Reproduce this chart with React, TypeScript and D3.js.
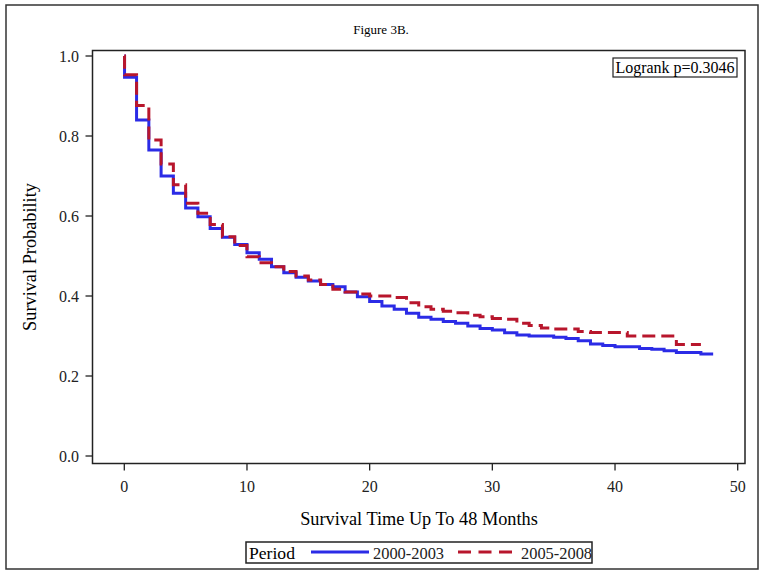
import React from "react";
import * as d3 from "d3";

const blueTimes = [0, 0.02, 1, 2, 3, 4, 5, 6, 7, 8, 9, 10, 11, 12, 13, 14, 15, 16, 17, 18, 19, 20, 21, 22, 23, 24, 25, 26, 27, 28, 29, 30, 31, 32, 33, 35, 36, 37, 38, 39, 40, 42, 43, 44, 45, 47, 48];
const blueSurv = [1.0, 0.947, 0.84, 0.765, 0.70, 0.657, 0.62, 0.598, 0.569, 0.547, 0.529, 0.508, 0.492, 0.473, 0.458, 0.447, 0.4375, 0.429, 0.423, 0.41, 0.398, 0.386, 0.375, 0.367, 0.357, 0.347, 0.342, 0.336, 0.332, 0.325, 0.319, 0.315, 0.308, 0.3025, 0.30, 0.297, 0.294, 0.288, 0.28, 0.276, 0.273, 0.269, 0.267, 0.263, 0.259, 0.255, 0.255];

const redTimes = [0, 0.02, 1, 2, 3, 4, 5, 6, 7, 8, 9, 10, 11, 12, 13, 14, 15, 16, 17, 18, 19, 20, 22, 23, 24, 25, 26, 27, 28, 29, 30, 31, 32, 33, 34, 35, 37, 38, 41, 45, 47];
const redSurv = [1.0, 0.953, 0.876, 0.79, 0.73, 0.678, 0.632, 0.607, 0.579, 0.548, 0.526, 0.498, 0.483, 0.473, 0.461, 0.45, 0.44, 0.429, 0.417, 0.41, 0.405, 0.40, 0.396, 0.383, 0.373, 0.367, 0.362, 0.358, 0.352, 0.348, 0.344, 0.342, 0.332, 0.326, 0.32, 0.3175, 0.311, 0.309, 0.30, 0.279, 0.279];

const xTicks = [0, 10, 20, 30, 40, 50];
const yTicks = [0.0, 0.2, 0.4, 0.6, 0.8, 1.0];
const seriesNames = ["2000-2003", "2005-2008"];

const BLUE = "#2b2be6";
const RED = "#b8162c";
const FONT = "'Liberation Serif', 'Times New Roman', serif";

export default function App() {
  const W = 764, H = 576;
  const plot = { left: 92.5, right: 745, top: 50.5, bottom: 463.5 };
  const x = d3.scaleLinear().domain([0, 50]).range([124.3, 737.7]);
  const y = d3.scaleLinear().domain([0, 1]).range([456, 56]);
  const line = d3.line<[number, number]>().x(d => x(d[0])).y(d => y(d[1])).curve(d3.curveStepAfter);
  const blue: [number, number][] = blueTimes.map((t, i) => [t, blueSurv[i]]);
  const red: [number, number][] = redTimes.map((t, i) => [t, redSurv[i]]);

  return (
    <svg width={W} height={H} style={{ position: "absolute", left: 0, top: 0, background: "#fff" }} fontFamily={FONT}>
      <rect x={6} y={5} width={752} height={564} fill="none" stroke="#333" strokeWidth={1.5} />
      <text x={381} y={34} textAnchor="middle" fontSize={13} fill="#000">Figure 3B.</text>
      <rect x={plot.left} y={plot.top} width={plot.right - plot.left} height={plot.bottom - plot.top} fill="none" stroke="#222" strokeWidth={1.5} />
      {yTicks.map(v => (
        <g key={"y" + v}>
          <line x1={plot.left - 7} x2={plot.left} y1={y(v)} y2={y(v)} stroke="#222" strokeWidth={1.3} />
          <text x={79} y={y(v)} dy="0.35em" textAnchor="end" fontSize={16} fill="#222">{v.toFixed(1)}</text>
        </g>
      ))}
      {xTicks.map(v => (
        <g key={"x" + v}>
          <line x1={x(v)} x2={x(v)} y1={plot.bottom} y2={plot.bottom + 7} stroke="#222" strokeWidth={1.3} />
          <text x={x(v)} y={492} textAnchor="middle" fontSize={16} fill="#222">{v}</text>
        </g>
      ))}
      <text transform={`translate(36,${(plot.top + plot.bottom) / 2}) rotate(-90)`} textAnchor="middle" fontSize={18.3} fill="#000">Survival Probability</text>
      <text x={419} y={525} textAnchor="middle" fontSize={18.3} fill="#000">Survival Time Up To 48 Months</text>
      <path d={line(blue) || ""} fill="none" stroke={BLUE} strokeWidth={3} />
      <path d={line(red) || ""} fill="none" stroke={RED} strokeWidth={3} strokeDasharray="13,6" />
      <rect x={613} y={58} width={124} height={19} fill="#fff" stroke="#222" strokeWidth={1.2} />
      <text x={675} y={73} textAnchor="middle" fontSize={16} fill="#000">Logrank p=0.3046</text>
      <rect x={246} y={542} width={346} height={21} fill="#fff" stroke="#222" strokeWidth={1.5} />
      <text x={249} y={559} fontSize={17.6} fill="#000">Period</text>
      <line x1={311} x2={369} y1={552} y2={552} stroke={BLUE} strokeWidth={3} />
      <text x={373} y={558.5} fontSize={16.4} fill="#222">{seriesNames[0]}</text>
      <line x1={458} x2={512} y1={552} y2={552} stroke={RED} strokeWidth={3} strokeDasharray="13,7.5" />
      <text x={521} y={558.5} fontSize={16.4} fill="#222">{seriesNames[1]}</text>
    </svg>
  );
}
